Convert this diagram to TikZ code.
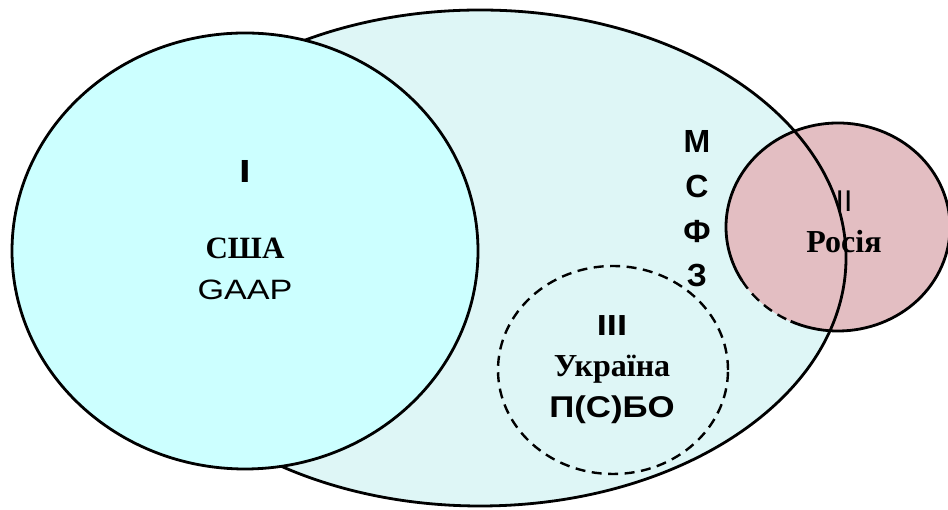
\documentclass[tikz,border=0pt]{standalone}
\usepackage{fontspec}
\setmainfont{Liberation Serif}
\setsansfont{Liberation Sans}
\definecolor{ifrsfill}{HTML}{DEF6F6}
\definecolor{usafill}{HTML}{CCFFFF}
\definecolor{rufill}{HTML}{E3BEC2}
\tikzset{
  setline/.style={draw=black, line width=2.8pt},
  dashline/.style={draw=black, line width=2.4pt, dash pattern=on 10pt off 6.5pt},
  lbl/.style={inner sep=0pt, anchor=base, text=black},
  sansb/.style={font=\sffamily\bfseries\fontsize{#1}{#1}\selectfont},
  serifb/.style={font=\rmfamily\bfseries\fontsize{#1}{#1}\selectfont},
  sansr/.style={font=\sffamily\fontsize{#1}{#1}\selectfont}
}
\begin{document}
\begin{tikzpicture}[x=1pt,y=1pt]
\useasboundingbox (0,0) rectangle (948,510);
% IFRS set (large ellipse)
\fill[ifrsfill] (480,252) ellipse [x radius=366, y radius=248];
% Russia set
\fill[rufill] (838,283) ellipse [x radius=112, y radius=104];
\draw[setline] (838,283) ++(-115:112 and 104) arc [start angle=-115, end angle=211, x radius=112, y radius=104];
\draw[dashline] (838,283) ++(211:112 and 104) arc [start angle=211, end angle=245, x radius=112, y radius=104];
% outline of the IFRS set
\draw[setline] (480,252) ellipse [x radius=366, y radius=248];
% USA set
\draw[setline, fill=usafill] (245,259) ellipse [x radius=233, y radius=218];
% Ukraine set (dashed)
\draw[dashline] (613,140) ellipse [x radius=115, y radius=104];

% USA labels
\node[lbl, sansb=32] (usaNum) at (245,327) {\scalebox{1.3}[1]{I}};
\node[lbl, serifb=31] (usaName) at (245,251) {США};
\node[lbl, sansr=28] (usaStd) at (245,210) {\scalebox{1.22}[1]{GAAP}};
% IFRS label, stacked vertically
\node[lbl, sansb=32] (ifrsM) at (697,357) {М};
\node[lbl, sansb=32] (ifrsS) at (697,312) {С};
\node[lbl, sansb=32] (ifrsF) at (697,267) {Ф};
\node[lbl, sansb=32] (ifrsZ) at (697,223) {З};
% Russia labels
\node[lbl, sansr=30] (ruNum) at (844,298) {II};
\node[lbl, serifb=32] (ruName) at (844,257) {Росія};
% Ukraine labels
\node[lbl, sansb=29] (uaNum) at (612,174) {\scalebox{1.25}[1]{III}};
\node[lbl, serifb=32] (uaName) at (612,133) {Україна};
\node[lbl, sansb=30] (uaStd) at (612,92) {\scalebox{1.16}[1]{П(С)БО}};
\end{tikzpicture}
\end{document}
